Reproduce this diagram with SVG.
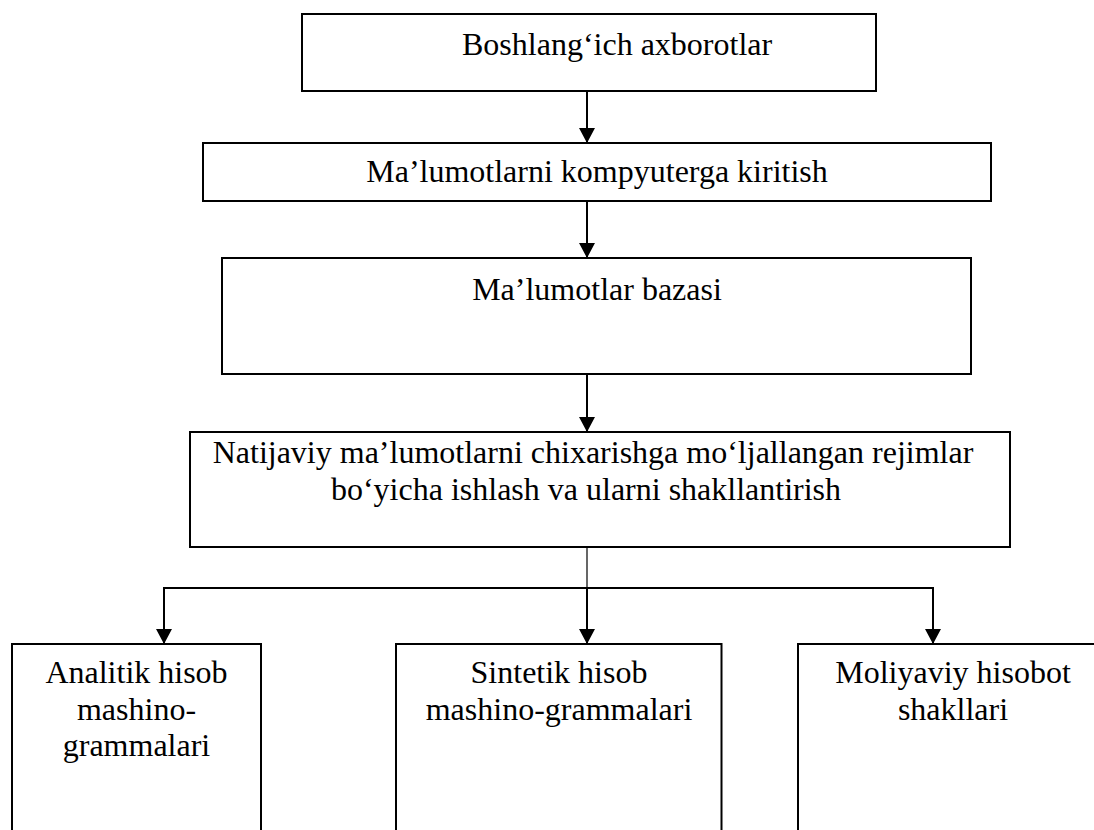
<svg xmlns="http://www.w3.org/2000/svg" width="1094" height="830" viewBox="0 0 1094 830">
<defs>
<marker id="arr" viewBox="0 0 15 16" refX="15" refY="8" markerWidth="15" markerHeight="16" markerUnits="userSpaceOnUse" orient="auto">
<path d="M0,0 L15,8 L0,16 Z" fill="#000"/>
</marker>
<style>
.box{fill:#fff;stroke:#000;stroke-width:2}
.t{font-family:"Liberation Serif","Times New Roman",serif;font-size:32px;fill:#000}
.c{text-anchor:middle}
.ln{fill:none;stroke:#000;stroke-width:2}
.thin{fill:none;stroke:#000;stroke-width:1.2}
</style>
</defs>
<rect width="1094" height="830" fill="#fff"/>
<g id="n1">
<rect class="box" x="302" y="14" width="574" height="77"/>
<text class="t" x="462" y="55">Boshlang‘ich axborotlar</text>
</g>
<g id="n2">
<rect class="box" x="203" y="143" width="788" height="58"/>
<text class="t c" x="597" y="182">Ma’lumotlarni kompyuterga kiritish</text>
</g>
<g id="n3">
<rect class="box" x="222" y="258" width="749" height="116"/>
<text class="t c" x="597" y="300">Ma’lumotlar bazasi</text>
</g>
<g id="n4">
<rect class="box" x="190" y="432" width="820" height="115"/>
<text class="t c" x="593" y="463">Natijaviy ma’lumotlarni chixarishga mo‘ljallangan rejimlar</text>
<text class="t c" x="586" y="500">bo‘yicha ishlash va ularni shakllantirish</text>
</g>
<g id="n5">
<rect class="box" x="12" y="644" width="249" height="200"/>
<text class="t c" x="136.5" y="683">Analitik hisob</text>
<text class="t c" x="136.5" y="720">mashino-</text>
<text class="t c" x="136.5" y="756">grammalari</text>
</g>
<g id="n6">
<rect class="box" x="396" y="644" width="325.5" height="200"/>
<text class="t c" x="559" y="683">Sintetik hisob</text>
<text class="t c" x="559" y="720">mashino-grammalari</text>
</g>
<g id="n7">
<rect class="box" x="798" y="644" width="310" height="200"/>
<text class="t c" x="953" y="683">Moliyaviy hisobot</text>
<text class="t c" x="953" y="720">shakllari</text>
</g>
<g id="connectors">
<line class="ln" x1="587" y1="91" x2="587" y2="143" marker-end="url(#arr)"/>
<line class="ln" x1="587" y1="201" x2="587" y2="258" marker-end="url(#arr)"/>
<line class="ln" x1="587" y1="374" x2="587" y2="432" marker-end="url(#arr)"/>
<line class="thin" x1="587" y1="547" x2="587" y2="588"/>
<polyline class="ln" points="587,588 164,588 164,644" marker-end="url(#arr)"/>
<polyline class="ln" points="587,588 933,588 933,644" marker-end="url(#arr)"/>
<line class="ln" x1="587" y1="588" x2="587" y2="644" marker-end="url(#arr)"/>
</g>
</svg>
